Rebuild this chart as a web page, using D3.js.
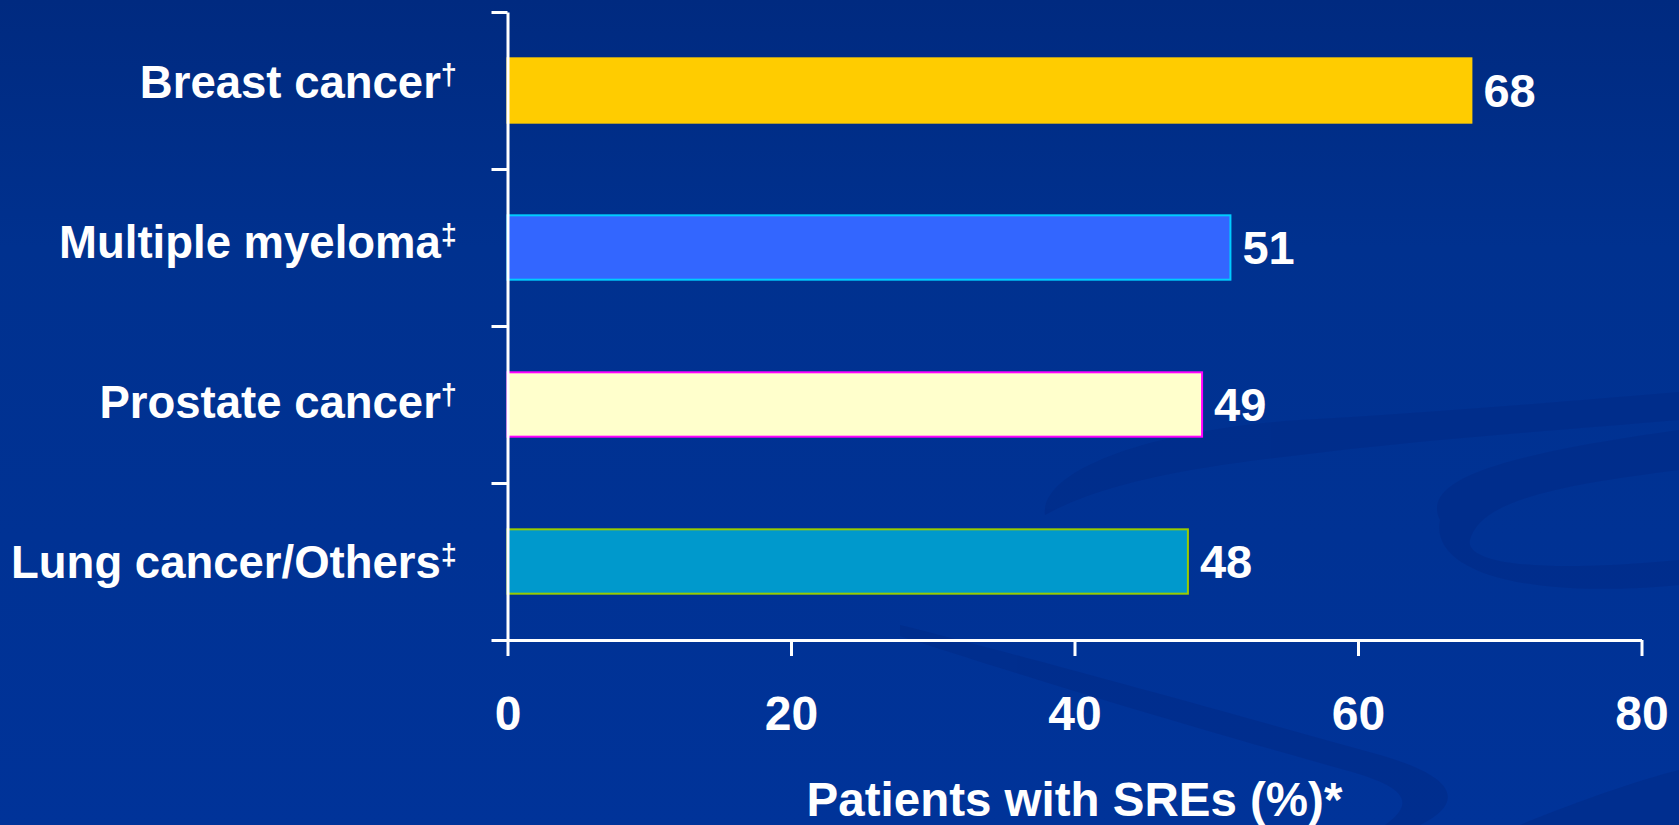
<!DOCTYPE html>
<html>
<head>
<meta charset="utf-8">
<script src="https://cdn.jsdelivr.net/npm/d3@7"></script>
<style>
  html, body { margin: 0; padding: 0; background: #003399; overflow: hidden; }
  svg { display: block; }
  text { font-family: "Liberation Sans", Arial, Helvetica, sans-serif; font-weight: bold; fill: #ffffff; }
</style>
</head>
<body>
<svg id="chart" width="1679" height="825"></svg>
<script>
// ---- data ----
const categories = ["Breast cancer", "Multiple myeloma", "Prostate cancer", "Lung cancer/Others"];
const footnoteMarks = ["\u2020", "\u2021", "\u2020", "\u2021"];
const values = [68, 51, 49, 48];
const xTicks = [0, 20, 40, 60, 80];
const xTitle = "Patients with SREs (%)*";
const fillColors = ["#FFCC00", "#3366FF", "#FFFFCC", "#0099CC"];
const strokeColors = ["#FFCC00", "#00CCFF", "#FF00FF", "#99CC00"];

const W = 1679, H = 825;
const svg = d3.select("#chart");

// ---- background ----
const defs = svg.append("defs");
const bg = defs.append("linearGradient").attr("id", "bg").attr("x1", 0).attr("y1", 0).attr("x2", 0).attr("y2", 1);
bg.append("stop").attr("offset", "0%").attr("stop-color", "#002a80");
bg.append("stop").attr("offset", "30%").attr("stop-color", "#00318f");
bg.append("stop").attr("offset", "100%").attr("stop-color", "#003399");
svg.append("rect").attr("width", W).attr("height", H).attr("fill", "url(#bg)");

// decorative swooshes (background artwork)
const deco = svg.append("g").attr("fill", "#002a86").attr("opacity", 0.5);
deco.append("path").attr("d",
  "M1045,515 C1040,470 1150,430 1300,420 C1450,412 1580,400 1679,392 L1679,420 C1560,430 1420,440 1300,455 C1160,470 1090,490 1045,515 Z");
deco.append("path").attr("d",
  "M1440,520 C1420,480 1500,455 1679,430 L1679,470 C1560,485 1480,500 1470,540 C1465,560 1520,575 1679,560 L1679,585 C1520,600 1430,570 1440,520 Z");
deco.append("path").attr("d",
  "M900,625 C1020,655 1200,705 1380,755 C1450,775 1470,800 1420,825 L1385,825 C1420,800 1400,785 1345,770 C1160,718 1010,672 900,636 Z");
deco.append("path").attr("d",
  "M1520,825 C1580,800 1640,780 1679,770 L1679,825 Z");

// ---- scales ----
const x = d3.scaleLinear().domain([0, 80]).range([507.5, 1641.5]);
const y = d3.scaleBand().domain(categories).range([12, 640]).paddingInner(0.59).paddingOuter(0.295);
const yTicks = d3.scaleLinear().domain([0, categories.length]).range([12, 640]);
const yLabel = d3.scalePoint().domain(categories).range([98.3, 578.3]);

// ---- bars ----
svg.append("g").selectAll("rect")
  .data(categories)
  .join("rect")
  .attr("x", x(0))
  .attr("y", d => y(d))
  .attr("width", (d, i) => x(values[i]) - x(0))
  .attr("height", y.bandwidth())
  .attr("fill", (d, i) => fillColors[i])
  .attr("stroke", (d, i) => strokeColors[i])
  .attr("stroke-width", 2);

// ---- value labels ----
svg.append("g").selectAll("text")
  .data(categories)
  .join("text")
  .attr("x", (d, i) => x(values[i]) + 12)
  .attr("y", d => y(d) + y.bandwidth() / 2 + 16)
  .attr("font-size", 47)
  .text((d, i) => values[i]);

// ---- axes ----
const yAxis = svg.append("g")
  .attr("transform", `translate(${x(0)},0)`)
  .call(d3.axisLeft(yTicks).tickValues(d3.range(categories.length + 1)).tickSize(16).tickSizeOuter(0).tickFormat(""));
yAxis.selectAll("path, line").attr("stroke", "#ffffff").attr("stroke-width", 3);

const xAxis = svg.append("g")
  .attr("transform", `translate(0,${yTicks(categories.length)})`)
  .call(d3.axisBottom(x).tickValues(xTicks).tickSize(16).tickSizeOuter(0));
xAxis.selectAll("path, line").attr("stroke", "#ffffff").attr("stroke-width", 3);
xAxis.selectAll("text")
  .attr("y", 90).attr("dy", 0)
  .attr("font-size", 48)
  .attr("fill", "#ffffff");
xAxis.attr("font-family", null);

// ---- category labels ----
const lbl = svg.append("g").selectAll("text")
  .data(categories)
  .join("text")
  .attr("x", 457)
  .attr("y", d => yLabel(d))
  .attr("text-anchor", "end")
  .attr("font-size", 45.5);
lbl.append("tspan").text(d => d);
lbl.append("tspan").attr("font-size", 29).attr("dy", -13).text((d, i) => footnoteMarks[i]);

// ---- axis title ----
svg.append("text")
  .attr("x", (x(0) + x(80)) / 2)
  .attr("y", 816)
  .attr("text-anchor", "middle")
  .attr("font-size", 47.5)
  .text(xTitle);
</script>
</body>
</html>
